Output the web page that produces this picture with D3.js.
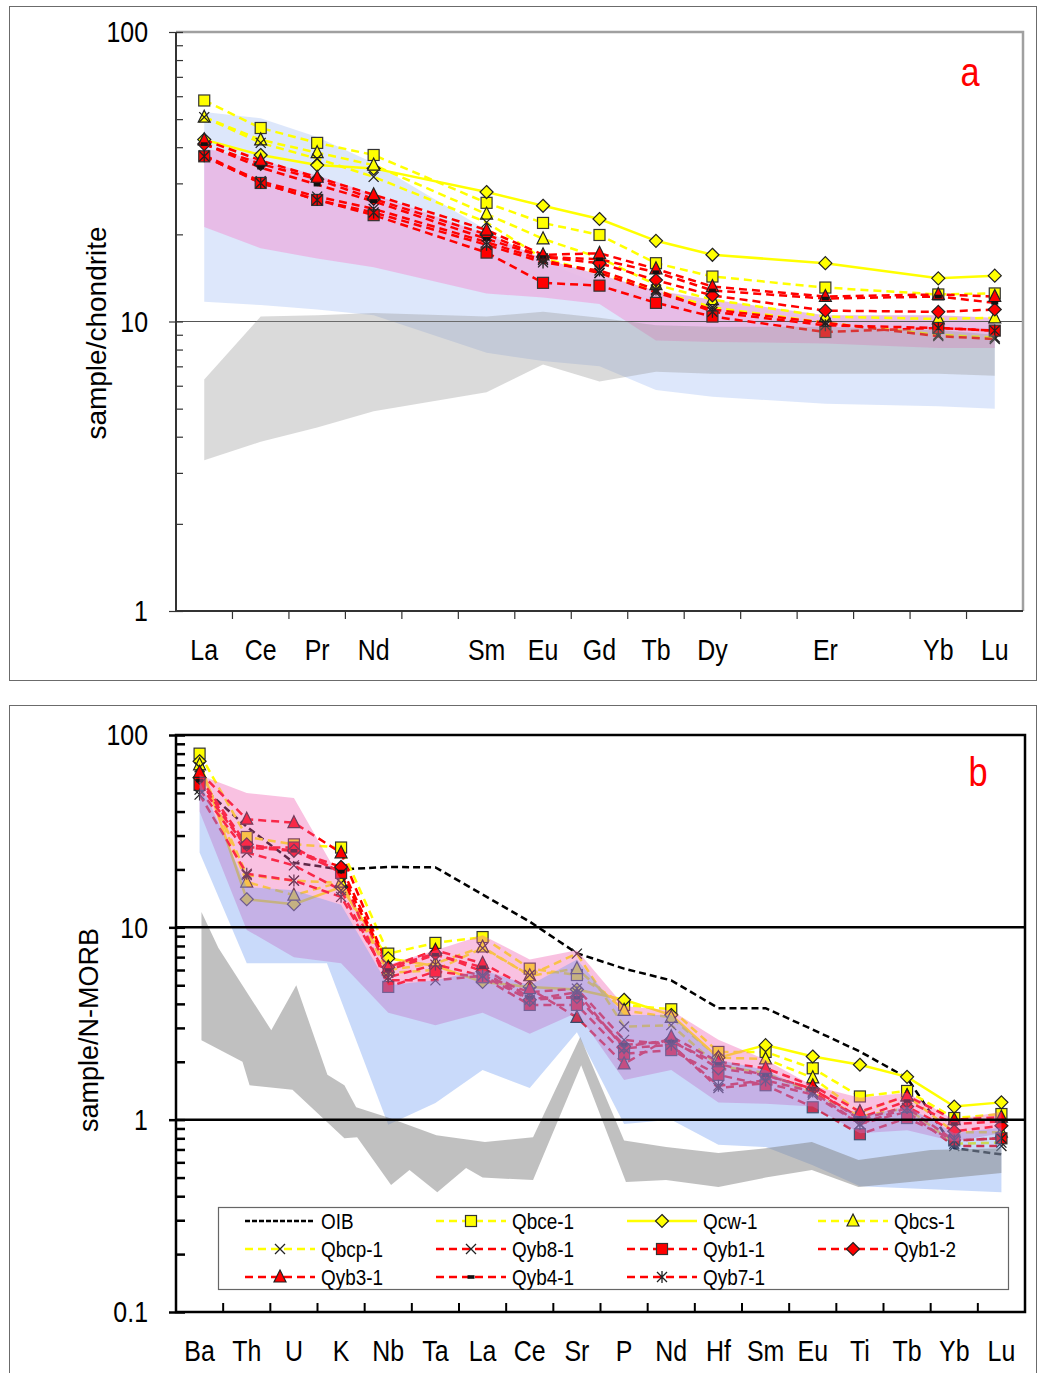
<!DOCTYPE html>
<html>
<head>
<meta charset="utf-8">
<script src="https://cdn.jsdelivr.net/npm/d3@7"></script>
<style>
  body { margin: 0; background: #fff; }
  svg { display: block; font-family: "Liberation Sans", Arial, sans-serif; }
</style>
</head>
<body>
<script>
// ---- categories ----
const reeSlots = ["La", "Ce", "Pr", "Nd", "Pm", "Sm", "Eu", "Gd", "Tb", "Dy", "Ho", "Er", "Tm", "Yb", "Lu"];
const reeUnlabelled = ["Pm", "Ho", "Tm"];
const reeElems = ["La", "Ce", "Pr", "Nd", "Sm", "Eu", "Gd", "Tb", "Dy", "Er", "Yb", "Lu"];
const traceElems = ["Ba", "Th", "U", "K", "Nb", "Ta", "La", "Ce", "Sr", "P", "Nd", "Hf", "Sm", "Eu", "Ti", "Tb", "Yb", "Lu"];
const sampleNames = ["OIB", "Qbce-1", "Qcw-1", "Qbcs-1", "Qbcp-1", "Qyb8-1", "Qyb1-1", "Qyb1-2", "Qyb3-1", "Qyb4-1", "Qyb7-1"];

// ---- panel a: chondrite normalised REE ----
const chQbce1 = [58, 46.6, 41.4, 37.6, 25.7, 21.9, 19.9, 15.9, 14.3, 13.1, 12.4, 12.5];
const chQcw1  = [42.5, 37.6, 34.7, 33.8, 28.0, 25.1, 22.6, 19.0, 17.0, 15.9, 14.1, 14.4];
const chQbcs1 = [50.8, 42.4, 38.3, 34.7, 23.5, 19.3, 16.6, 13.4, 11.9, 10.4, 10.2, 10.3];
const chQbcp1 = [50.8, 41.4, 36.5, 31.6, 22.0, 16.5, 14.7, 12.8, 11.2, 9.9, 9.0, 8.8];
const chQyb81 = [37.5, 30.5, 27.0, 24.5, 18.8, 16.3, 14.7, 12.6, 11.0, 9.9, 8.9, 8.7];
const chQyb11 = [37.2, 30.1, 26.3, 23.3, 17.3, 13.6, 13.3, 11.6, 10.4, 9.2, 9.5, 9.3];
const chQyb12 = [41.0, 35.0, 31.0, 26.5, 20.0, 16.7, 15.9, 13.9, 12.3, 10.9, 10.8, 11.0];
const chQyb31 = [42.4, 36.0, 31.5, 27.4, 20.7, 17.0, 17.2, 15.2, 13.2, 12.2, 12.4, 12.2];
const chQyb41 = [41.0, 34.0, 29.7, 26.0, 19.3, 16.7, 16.4, 14.8, 12.8, 12.0, 12.2, 11.6];
const chQyb71 = [37.2, 30.1, 26.3, 23.8, 18.4, 16.0, 15.0, 12.9, 10.8, 9.7, 9.5, 9.3];

// panel a comparison fields (top / base per REE)
const chBlueTop  = [52.9, 50.4, 43.4, 35.3, 20.7, 16.1, 13.5, 12.0, 10.5, 9.96, 9.7, 9.5];
const chBlueBase = [11.7, 11.4, 11.0, 10.5, 7.8, 7.3, 7.0, 5.8, 5.5, 5.2, 5.1, 5.0];
const chGrayTop  = [6.3, 10.4, 10.5, 10.7, 10.4, 10.8, 10.3, 9.7, 9.6, 9.6, 9.35, 9.0];
const chGrayBase = [3.32, 3.84, 4.3, 4.9, 5.7, 7.1, 6.2, 6.7, 6.6, 6.6, 6.6, 6.5];
const chPinkTop  = [39.7, 36.0, 32.0, 27.5, 20.0, 16.5, 14.5, 12.8, 11.9, 10.5, 10.5, 10.3];
const chPinkBase = [21.2, 17.9, 16.5, 15.4, 12.5, 12.1, 11.5, 8.6, 8.5, 8.4, 8.1, 8.1];

// ---- panel b: N-MORB normalised trace elements ----
const mbOIB   = [55, 33.3, 21.7, 20, 20.6, 20.5, 14.8, 10.7, 7.33, 6.1, 5.3, 3.8, 3.8, 2.94, 2.26, 1.65, 0.71, 0.66];
const mbQbce1 = [80, 29.5, 27, 26, 7.3, 8.3, 8.9, 6.1, 5.65, 3.95, 3.75, 2.25, 2.25, 1.85, 1.32, 1.41, 1.02, 1.07];
const mbQcw1  = [73, 14.0, 13.2, 16.2, 6.9, 6.3, 5.2, 4.9, 4.75, 4.2, 3.5, 2.1, 2.44, 2.13, 1.93, 1.67, 1.17, 1.23];
const mbQbcs1 = [70, 17.2, 14.7, 17.2, 6.0, 6.5, 7.9, 5.6, 6.1, 3.7, 3.4, 2.1, 2.07, 1.65, 1.09, 1.33, 0.86, 0.86];
const mbQbcp1 = [68, 18.7, 17.5, 17.0, 5.8, 6.0, 7.8, 5.65, 7.3, 3.05, 3.1, 1.9, 1.75, 1.38, 1.04, 1.15, 0.75, 0.76];
const mbQyb81 = [52, 24.5, 21, 15.6, 5.3, 5.3, 5.6, 4.6, 4.8, 2.6, 2.45, 1.46, 1.55, 1.35, 0.95, 1.1, 0.73, 0.73];
const mbQyb11 = [55, 26, 26, 19.2, 4.9, 5.9, 5.5, 3.95, 3.95, 2.2, 2.3, 1.71, 1.51, 1.16, 0.84, 1.02, 0.78, 0.8];
const mbQyb12 = [60, 27, 25, 20.6, 6.2, 7.3, 5.9, 4.2, 4.35, 2.4, 2.6, 1.85, 1.7, 1.45, 1.0, 1.17, 0.87, 0.93];
const mbQyb31 = [64, 36.5, 35, 24.4, 6.2, 7.6, 6.5, 4.8, 3.4, 1.95, 2.7, 2.0, 1.85, 1.5, 1.1, 1.33, 1.0, 1.03];
const mbQyb41 = [58, 26, 25, 19.5, 6.0, 7.2, 6.2, 4.3, 4.3, 2.45, 2.55, 1.95, 1.7, 1.45, 1.02, 1.25, 0.95, 0.98];
const mbQyb71 = [49, 19, 17.5, 14.4, 5.5, 6.4, 5.6, 4.2, 4.6, 2.35, 2.45, 1.5, 1.6, 1.4, 0.95, 1.15, 0.78, 0.8];

// panel b fields as [element index, value]
const mbPinkTop  = [[0, 62], [1, 49.9], [2, 47], [3, 17.5], [4, 6.4], [5, 7.6], [6, 9.1], [7, 6.8], [8, 7.6], [9, 3.9], [10, 3.7], [11, 2.6], [12, 2.05], [13, 1.5], [14, 1.3], [15, 1.38], [16, 1.0], [17, 1.1]];
const mbPinkBase = [[0, 40], [1, 9.7], [2, 7.0], [3, 6.5], [4, 3.6], [5, 3.1], [6, 3.6], [7, 2.8], [8, 3.6], [9, 1.61], [10, 1.81], [11, 1.23], [12, 1.21], [13, 1.17], [14, 0.85], [15, 0.88], [16, 0.77], [17, 0.85]];
const mbBlueTop  = [[0, 58], [1, 16.2], [2, 15.6], [3, 13.1], [4, 5.0], [5, 5.3], [6, 6.0], [7, 5.0], [8, 6.8], [9, 3.5], [10, 3.5], [11, 2.05], [12, 1.81], [13, 1.38], [14, 1.04], [15, 1.17], [16, 0.85], [17, 0.91]];
const mbBlueBase = [[0, 24.5], [1, 6.5], [2, 6.5], [2.7, 6.5], [4, 0.94], [5, 1.22], [6, 1.81], [7, 1.46], [8, 2.85], [9, 0.95], [10, 1.0], [11, 0.74], [12, 0.72], [13, 0.58], [14, 0.45], [15, 0.44], [16, 0.43], [17, 0.42]];
const mbGrayTop  = [[0.04, 12.0], [0.4, 7.8], [1.52, 2.92], [2.05, 5.0], [2.71, 1.71], [3.07, 1.51], [3.32, 1.16], [3.98, 1.03], [5.02, 0.83], [6.05, 0.765], [7.07, 0.81], [8.07, 2.69], [9.0, 0.78], [9.89, 0.72], [11.0, 0.67], [12.0, 0.71], [12.98, 0.765], [13.97, 0.617], [15.5, 0.695], [17.0, 0.71]];
const mbGrayBase = [[0.04, 2.59], [0.91, 2.0], [1.06, 1.51], [1.97, 1.43], [3.07, 0.80], [3.34, 0.81], [4.06, 0.457], [4.45, 0.547], [5.04, 0.42], [5.65, 0.56], [6.0, 0.50], [7.07, 0.485], [8.09, 1.92], [9.04, 0.474], [9.89, 0.485], [11.0, 0.447], [12.0, 0.50], [12.98, 0.547], [13.97, 0.447], [17.0, 0.528]];

// ---- styles ----
const YEL = "#ffff00", RED = "#ff0000";
const look = {
  "OIB":    { color: "#000", dash: "7,4", marker: null },
  "Qbce-1": { color: YEL, dash: "8,5", marker: "square", fill: YEL },
  "Qcw-1":  { color: YEL, dash: null, marker: "diamond", fill: YEL },
  "Qbcs-1": { color: YEL, dash: "8,5", marker: "triangle", fill: YEL },
  "Qbcp-1": { color: YEL, dash: "8,5", marker: "x" },
  "Qyb8-1": { color: RED, dash: "8,5", marker: "x" },
  "Qyb1-1": { color: RED, dash: "8,5", marker: "square", fill: RED },
  "Qyb1-2": { color: RED, dash: "8,5", marker: "diamond", fill: RED },
  "Qyb3-1": { color: RED, dash: "8,5", marker: "triangle", fill: RED },
  "Qyb4-1": { color: RED, dash: "8,5", marker: "dash" },
  "Qyb7-1": { color: RED, dash: "8,5", marker: "asterisk" }
};

const chSeries = [["Qbce-1", chQbce1], ["Qcw-1", chQcw1], ["Qbcs-1", chQbcs1], ["Qbcp-1", chQbcp1],
  ["Qyb8-1", chQyb81], ["Qyb1-1", chQyb11], ["Qyb1-2", chQyb12], ["Qyb3-1", chQyb31], ["Qyb4-1", chQyb41], ["Qyb7-1", chQyb71]];
const mbSeries = [["OIB", mbOIB], ["Qbce-1", mbQbce1], ["Qcw-1", mbQcw1], ["Qbcs-1", mbQbcs1], ["Qbcp-1", mbQbcp1],
  ["Qyb8-1", mbQyb81], ["Qyb1-1", mbQyb11], ["Qyb1-2", mbQyb12], ["Qyb3-1", mbQyb31], ["Qyb4-1", mbQyb41], ["Qyb7-1", mbQyb71]];

const svg = d3.select("body").append("svg").attr("width", 1039).attr("height", 1373);

// narrow-looking text (the original uses a condensed face)
function ntext(g, x, y, str, size, anchor, fill) {
  return g.append("text").attr("transform", `translate(${x},${y}) scale(0.86,1)`)
    .attr("text-anchor", anchor).attr("dy", "0.36em").attr("font-size", size)
    .attr("fill", fill || "#000").text(str);
}

// draw one marker symbol
function marker(g, type, fill, x, y) {
  if (type === "square") {
    g.append("rect").attr("x", x - 5.5).attr("y", y - 5.5).attr("width", 11).attr("height", 11)
      .attr("fill", fill).attr("stroke", "#333").attr("stroke-width", 1.2);
  } else if (type === "diamond") {
    g.append("path").attr("d", `M${x},${y - 6.5}L${x + 6.5},${y}L${x},${y + 6.5}L${x - 6.5},${y}Z`)
      .attr("fill", fill).attr("stroke", "#222").attr("stroke-width", 1.2);
  } else if (type === "triangle") {
    g.append("path").attr("d", `M${x},${y - 7}L${x + 6},${y + 5}L${x - 6},${y + 5}Z`)
      .attr("fill", fill).attr("stroke", "#222").attr("stroke-width", 1.2);
  } else if (type === "x") {
    g.append("path").attr("d", `M${x - 5},${y - 5}L${x + 5},${y + 5}M${x - 5},${y + 5}L${x + 5},${y - 5}`)
      .attr("stroke", "#222").attr("stroke-width", 1.3).attr("fill", "none");
  } else if (type === "asterisk") {
    g.append("path").attr("d", `M${x - 5},${y - 5}L${x + 5},${y + 5}M${x - 5},${y + 5}L${x + 5},${y - 5}M${x},${y - 6}L${x},${y + 6}`)
      .attr("stroke", "#222").attr("stroke-width", 1.3).attr("fill", "none");
  } else if (type === "dash") {
    g.append("rect").attr("x", x - 3.5).attr("y", y - 1.8).attr("width", 7).attr("height", 3.6).attr("fill", "#111");
  }
}

function drawSeries(g, list, xOf, y) {
  const line = d3.line().x(d => d[0]).y(d => d[1]);
  list.forEach(([name, vals]) => {
    const st = look[name];
    const pts = vals.map((v, i) => [xOf(i), y(v)]);
    g.append("path").attr("d", line(pts)).attr("fill", "none")
      .attr("stroke", st.color).attr("stroke-width", 2.5)
      .attr("stroke-dasharray", st.dash);
  });
  list.forEach(([name, vals]) => {
    const st = look[name];
    if (!st.marker) return;
    vals.forEach((v, i) => marker(g, st.marker, st.fill, xOf(i), y(v)));
  });
}

function drawField(g, top, base, xOf, y, fill, op) {
  const pts = top.map(d => [xOf(d[0]), y(d[1])]).concat(base.slice().reverse().map(d => [xOf(d[0]), y(d[1])]));
  g.append("path").attr("d", d3.line()(pts) + "Z").attr("fill", fill).attr("fill-opacity", op).attr("stroke", "none");
}

function logTicks(lo, hi) {
  const t = [];
  for (let p = lo; p < hi; p *= 10) for (let k = 1; k < 10; k++) t.push(+(p * k).toPrecision(3));
  t.push(hi);
  return t;
}

// ================= panel a =================
svg.append("rect").attr("x", 9.5).attr("y", 6.5).attr("width", 1027).attr("height", 674)
  .attr("fill", "none").attr("stroke", "#6b6b6b").attr("stroke-width", 1);

const xA = d3.scaleBand().domain(reeSlots).range([176, 1023]);
const cxA = e => xA(e) + xA.bandwidth() / 2;
const yA = d3.scaleLog().domain([1, 100]).range([611, 32]);
const gA = svg.append("g");
const xiA = i => cxA(reeElems[i]);
const toPairs = arr => arr.map((v, i) => [i, v]);

drawField(gA, toPairs(chBlueTop), toPairs(chBlueBase), xiA, yA, "rgb(170,195,245)", 0.4);
drawField(gA, toPairs(chPinkTop), toPairs(chPinkBase), xiA, yA, "rgb(231,184,229)", 0.92);
gA.append("line").attr("x1", 176).attr("x2", 1023).attr("y1", yA(10)).attr("y2", yA(10))
  .attr("stroke", "#555").attr("stroke-width", 1.2);
drawSeries(gA, chSeries, xiA, yA);
drawField(gA, toPairs(chGrayTop), toPairs(chGrayBase), xiA, yA, "rgb(150,150,150)", 0.35);

// frame / axes
gA.append("path").attr("d", "M176,32H1023V611").attr("fill", "none").attr("stroke", "#a0a0a0").attr("stroke-width", 2.5);
gA.append("g").attr("transform", "translate(176,0)")
  .call(d3.axisRight(yA).tickValues(logTicks(1, 100)).tickSize(7).tickFormat(""))
  .call(s => s.select(".domain").remove())
  .selectAll("line").attr("stroke", "#333").attr("stroke-width", 1.2);
gA.append("g").attr("transform", "translate(176,0)")
  .call(d3.axisLeft(yA).tickValues([1, 10, 100]).tickSize(7).tickFormat(""))
  .call(s => s.select(".domain").remove())
  .selectAll("line").attr("stroke", "#333").attr("stroke-width", 1.2);
[1, 10, 100].forEach(v => ntext(gA, 148, yA(v), d3.format("d")(v), 29, "end"));
gA.append("line").attr("x1", 176).attr("x2", 176).attr("y1", 32).attr("y2", 611).attr("stroke", "#333").attr("stroke-width", 2);
gA.append("line").attr("x1", 176).attr("x2", 1023).attr("y1", 611).attr("y2", 611).attr("stroke", "#333").attr("stroke-width", 2);
reeSlots.slice(1).forEach(e => {
  gA.append("line").attr("x1", xA(e)).attr("x2", xA(e)).attr("y1", 611).attr("y2", 619).attr("stroke", "#333").attr("stroke-width", 1.2);
});
reeSlots.filter(e => !reeUnlabelled.includes(e)).forEach(e => ntext(gA, cxA(e), 650, e, 29, "middle"));
gA.append("text").attr("transform", "translate(106,333) rotate(-90)")
  .attr("text-anchor", "middle").attr("font-size", 28).text("sample/chondrite");
ntext(gA, 970, 72, "a", 40, "middle", "#ff0000");

// ================= panel b =================
svg.append("rect").attr("x", 9.5).attr("y", 705.5).attr("width", 1027).attr("height", 680)
  .attr("fill", "none").attr("stroke", "#6b6b6b").attr("stroke-width", 1);

const xB = d3.scaleBand().domain(traceElems).range([176, 1025]);
const cxB = e => xB(e) + xB.bandwidth() / 2;
const posB = d3.scaleLinear().domain([0, traceElems.length - 1]).range([cxB(traceElems[0]), cxB(traceElems[traceElems.length - 1])]);
const yB = d3.scaleLog().domain([0.1, 100]).range([1312, 735]);
const gB = svg.append("g");

drawSeries(gB, mbSeries, posB, yB);
drawField(gB, mbPinkTop, mbPinkBase, posB, yB, "rgb(240,100,180)", 0.4);
drawField(gB, mbBlueTop, mbBlueBase, posB, yB, "rgb(100,150,240)", 0.35);
drawField(gB, mbGrayTop, mbGrayBase, posB, yB, "rgb(130,130,130)", 0.5);

[10, 1].forEach(v => {
  gB.append("line").attr("x1", 176).attr("x2", 1025).attr("y1", yB(v)).attr("y2", yB(v))
    .attr("stroke", "#000").attr("stroke-width", 2.5);
});
gB.append("g").attr("transform", "translate(176,0)")
  .call(d3.axisRight(yB).tickValues(logTicks(0.1, 100)).tickSize(9).tickFormat(""))
  .call(s => s.select(".domain").remove())
  .selectAll("line").attr("stroke", "#000").attr("stroke-width", 2.5);
gB.append("g").attr("transform", "translate(176,0)")
  .call(d3.axisLeft(yB).tickValues([0.1, 1, 10, 100]).tickSize(7).tickFormat(""))
  .call(s => s.select(".domain").remove())
  .selectAll("line").attr("stroke", "#000").attr("stroke-width", 2.5);
[0.1, 1, 10, 100].forEach(v => ntext(gB, 148, yB(v), v < 1 ? "0.1" : d3.format("d")(v), 29, "end"));
traceElems.slice(1).forEach(e => {
  gB.append("line").attr("x1", xB(e)).attr("x2", xB(e)).attr("y1", 1312).attr("y2", 1303).attr("stroke", "#000").attr("stroke-width", 2);
});
gB.append("rect").attr("x", 176).attr("y", 735).attr("width", 849).attr("height", 577)
  .attr("fill", "none").attr("stroke", "#000").attr("stroke-width", 2.5);
traceElems.forEach(e => ntext(gB, cxB(e), 1351, e, 29, "middle"));
gB.append("text").attr("transform", "translate(98,1030) rotate(-90)")
  .attr("text-anchor", "middle").attr("font-size", 27).text("sample/N-MORB");
ntext(gB, 978, 772, "b", 40, "middle", "#ff0000");

// legend
const lg = svg.append("g");
lg.append("rect").attr("x", 218.5).attr("y", 1207.5).attr("width", 790).attr("height", 82)
  .attr("fill", "#fff").attr("stroke", "#666").attr("stroke-width", 1.2);
const colX = [245, 436, 627, 818];
const rowY = [1221, 1249, 1277];
sampleNames.forEach((name, i) => {
  const st = look[name];
  const x0 = colX[i % 4], yy = rowY[Math.floor(i / 4)];
  lg.append("line").attr("x1", x0).attr("x2", x0 + 70).attr("y1", yy).attr("y2", yy)
    .attr("stroke", st.color).attr("stroke-width", 2.5)
    .attr("stroke-dasharray", name === "OIB" ? "5,2" : st.dash);
  if (st.marker) marker(lg, st.marker, st.fill, x0 + 35, yy);
  ntext(lg, x0 + 76, yy, name, 22, "start");
});
</script>
</body>
</html>
